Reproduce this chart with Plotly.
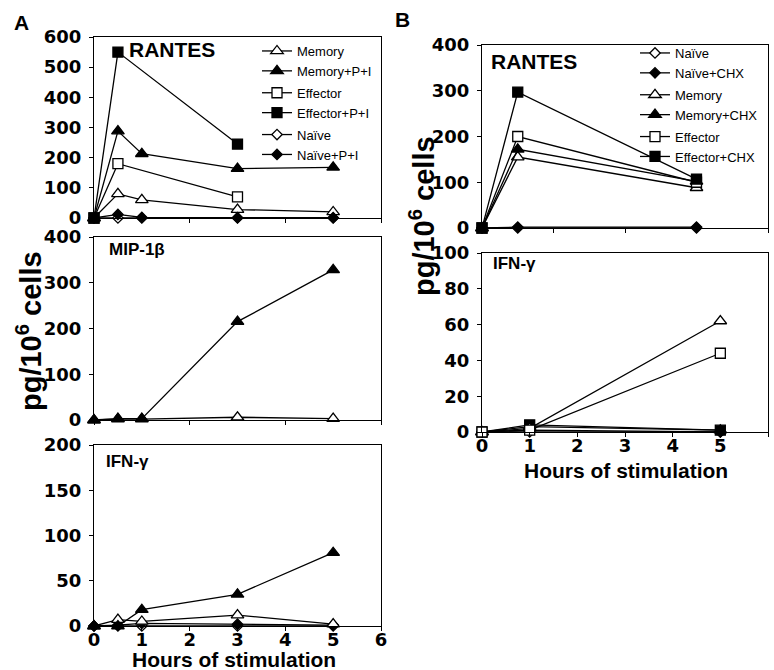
import plotly.graph_objects as go

W, H = 774, 670

# ---------------- data ----------------
hours_A = [0, 0.5, 1, 3, 5]
hours_A_eff = [0, 0.5, 3]

rantes_A_memory = [0, 80, 60, 28, 20]
rantes_A_memory_pi = [0, 288, 213, 164, 168]
rantes_A_effector = [0, 180, 70]
rantes_A_effector_pi = [0, 550, 245]
rantes_A_naive = [0, 0, 0, 0, 0]
rantes_A_naive_pi = [0, 12, 2, 1, 1]

mip_A_memory = [0, 2, 2, 6, 3]
mip_A_memory_pi = [0, 3, 3, 215, 328]

ifn_A_naive = [0, 0, 0, 0, 0]
ifn_A_naive_pi = [0, 1, 3, 2, 1]
ifn_A_memory = [0, 7, 5, 12, 2]
ifn_A_memory_pi = [0, 0, 18, 35, 81]

hours_B_rantes = [0, 0.5, 3]
rantes_B_naive = [0, 0, 0]
rantes_B_naive_chx = [0, 2, 2]
rantes_B_memory = [0, 155, 88]
rantes_B_memory_chx = [0, 172, 102]
rantes_B_effector = [0, 200, 100]
rantes_B_effector_chx = [0, 297, 107]

hours_B_ifn = [0, 1, 5]
ifn_B_naive = [0, 0, 0]
ifn_B_naive_chx = [0, 1, 0]
ifn_B_memory = [0, 2, 62]
ifn_B_memory_chx = [0, 3, 1]
ifn_B_effector = [0, 1, 44]
ifn_B_effector_chx = [0, 4, 1]

# ---------------- styles ----------------
STY = {
    "memory": dict(symbol="triangle-up-open", size=11),
    "memory_f": dict(symbol="triangle-up", size=11),
    "effector": dict(symbol="square-open", size=10),
    "effector_f": dict(symbol="square", size=10),
    "naive": dict(symbol="diamond-open", size=8),
    "naive_f": dict(symbol="diamond", size=8),
}


def px_x(p):
    return p / W


def px_y(p):
    return 1 - p / H


fig = go.Figure()


def add(x, y, style, xa, ya, name=None, legend=None, group=None):
    st = STY[style]
    filled = not st["symbol"].endswith("-open")
    sym = st["symbol"].replace("-open", "")
    fig.add_trace(go.Scatter(
        x=x, y=y, mode="lines+markers", xaxis=xa, yaxis=ya,
        name=name if name else style,
        showlegend=legend is not None,
        legend=legend if legend else "legend",
        legendgroup=group,
        cliponaxis=False,
        line=dict(color="black", width=1.3),
        marker=dict(symbol=sym, size=st["size"],
                    color="black" if filled else "white",
                    line=dict(color="black", width=1.3)),
    ))


# Panel A RANTES (x, y)
add(hours_A, rantes_A_memory, "memory", "x", "y", "Memory", "legend", "a")
add(hours_A, rantes_A_memory_pi, "memory_f", "x", "y", "Memory+P+I", "legend", "a")
add(hours_A_eff, rantes_A_effector, "effector", "x", "y", "Effector", "legend", "e")
add(hours_A_eff, rantes_A_effector_pi, "effector_f", "x", "y", "Effector+P+I", "legend", "e")
add(hours_A, rantes_A_naive, "naive", "x", "y", "Naïve", "legend", "n")
add(hours_A, rantes_A_naive_pi, "naive_f", "x", "y", "Naïve+P+I", "legend", "n")

# Panel A MIP-1b (x2, y2)
add(hours_A, mip_A_memory, "memory", "x2", "y2")
add(hours_A, mip_A_memory_pi, "memory_f", "x2", "y2")

# Panel A IFN-g (x3, y3)
add(hours_A, ifn_A_naive, "naive", "x3", "y3")
add(hours_A, ifn_A_naive_pi, "naive_f", "x3", "y3")
add(hours_A, ifn_A_memory, "memory", "x3", "y3")
add(hours_A, ifn_A_memory_pi, "memory_f", "x3", "y3")

# Panel B RANTES (x4, y4)
add(hours_B_rantes, rantes_B_naive, "naive", "x4", "y4", "Naïve", "legend2", "bn")
add(hours_B_rantes, rantes_B_naive_chx, "naive_f", "x4", "y4", "Naïve+CHX", "legend2", "bn")
add(hours_B_rantes, rantes_B_memory, "memory", "x4", "y4", "Memory", "legend2", "bm")
add(hours_B_rantes, rantes_B_memory_chx, "memory_f", "x4", "y4", "Memory+CHX", "legend2", "bm")
add(hours_B_rantes, rantes_B_effector, "effector", "x4", "y4", "Effector", "legend2", "be")
add(hours_B_rantes, rantes_B_effector_chx, "effector_f", "x4", "y4", "Effector+CHX", "legend2", "be")

# Panel B IFN-g (x5, y5)
add(hours_B_ifn, ifn_B_naive, "naive", "x5", "y5")
add(hours_B_ifn, ifn_B_naive_chx, "naive_f", "x5", "y5")
add(hours_B_ifn, ifn_B_memory_chx, "memory_f", "x5", "y5")
add(hours_B_ifn, ifn_B_effector_chx, "effector_f", "x5", "y5")
add(hours_B_ifn, ifn_B_memory, "memory", "x5", "y5")
add(hours_B_ifn, ifn_B_effector, "effector", "x5", "y5")

TICKFONT = dict(family="DejaVu Sans", size=18, color="black", weight="bold")


def xaxis(dom, rng, dtick, labels):
    return dict(domain=dom, range=rng, dtick=dtick, tick0=0, showline=True, mirror=True,
                linecolor="black", linewidth=1, ticks="outside", ticklen=4,
                tickcolor="black", showgrid=False, zeroline=False, automargin=False,
                showticklabels=labels, tickfont=TICKFONT, ticklabelstandoff=-7)


def yaxis(dom, rng, dtick, anchor):
    return dict(domain=dom, range=rng, dtick=dtick, tick0=0, showline=True, mirror=True,
                linecolor="black", linewidth=1, ticks="outside", ticklen=4,
                tickcolor="black", showgrid=False, zeroline=False, anchor=anchor,
                automargin=False, tickfont=TICKFONT, ticklabelstandoff=4)


A_dom = [px_x(94), px_x(381)]
B_dom = [px_x(482), px_x(768)]

LEGFONT = dict(size=13, family="Liberation Sans", color="black")

fig.update_layout(
    width=W, height=H, margin=dict(l=0, r=0, t=0, b=0, autoexpand=False),
    paper_bgcolor="white", plot_bgcolor="white",
    font=dict(family="Liberation Sans", color="black"),
    xaxis=dict(xaxis(A_dom, [0, 6], 2, False), anchor="y"),
    yaxis=yaxis([px_y(218), px_y(37)], [0, 600], 100, "x"),
    xaxis2=dict(xaxis(A_dom, [0, 6], 2, False), anchor="y2"),
    yaxis2=yaxis([px_y(420), px_y(237)], [0, 400], 100, "x2"),
    xaxis3=dict(xaxis(A_dom, [0, 6], 1, True), anchor="y3"),
    yaxis3=yaxis([px_y(626), px_y(445)], [0, 200], 50, "x3"),
    xaxis4=dict(xaxis(B_dom, [0, 4], 1, False), anchor="y4"),
    yaxis4=yaxis([px_y(228), px_y(45)], [0, 400], 100, "x4"),
    xaxis5=dict(xaxis(B_dom, [0, 6], 1, True), anchor="y5"),
    yaxis5=yaxis([px_y(432), px_y(253)], [0, 100], 20, "x5"),
    legend=dict(x=px_x(257), y=px_y(36), xanchor="left", yanchor="top",
                bgcolor="rgba(0,0,0,0)", font=LEGFONT,
                traceorder="grouped", tracegroupgap=2, itemwidth=30),
    legend2=dict(x=px_x(635), y=px_y(38), xanchor="left", yanchor="top",
                 bgcolor="rgba(0,0,0,0)", font=LEGFONT,
                 traceorder="grouped", tracegroupgap=2, itemwidth=30),
)

BOLD = dict(family="Liberation Sans", color="black", weight="bold")


def note(text, x, y, size, angle=0, xanchor="center"):
    fig.add_annotation(text=text, x=px_x(x), y=px_y(y), xref="paper", yref="paper",
                       showarrow=False, textangle=angle, xanchor=xanchor, yanchor="middle",
                       font=dict(BOLD, size=size))


note("A", 21, 22, 21)
note("B", 402, 20, 21)
note("RANTES", 127, 50, 21, xanchor="left")
note("MIP-1β", 107, 249, 17, xanchor="left")
note("IFN-γ", 104, 461, 17, xanchor="left")
note("RANTES", 489, 62, 21, xanchor="left")
note("IFN-γ", 491, 263, 17, xanchor="left")
note("pg/10<sup>6</sup> cells", 29, 331, 29, angle=-90)
note("pg/10<sup>6</sup> cells", 422, 216, 29, angle=-90)
note("Hours of stimulation", 234, 659, 21)
note("Hours of stimulation", 626, 470, 21)

fig.write_html("out.html", config={"displayModeBar": False},
               post_script="document.body.style.margin='0px';document.body.style.overflow='hidden';")
